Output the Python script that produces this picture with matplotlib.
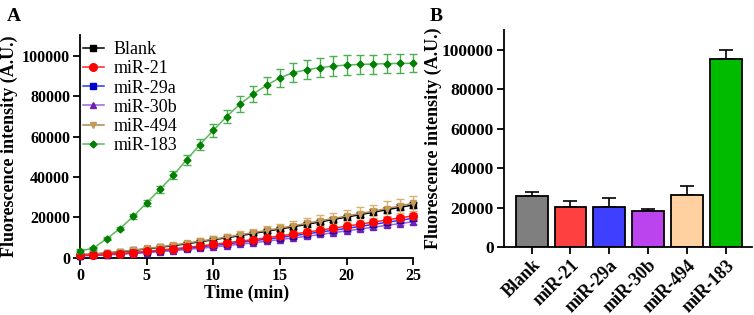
"""
Fluorescence kinetics (A) and end-point intensity (B) for the miRNA panel
"""
import numpy as np
import matplotlib.pyplot as plt
from matplotlib.lines import Line2D

plt.rcParams['font.family'] = ['Liberation Serif', 'DejaVu Serif']

# Panel A: time course, 0..25 min
time = list(range(26))
blank = [1500, 1900, 2400, 3000, 3700, 4500, 5300, 6100, 7000, 8000, 9000, 10000, 11000,
         12100, 13200, 14300, 15400, 16600, 17800, 19000, 20200, 21400, 22600, 23800, 25000, 26200]
blank_err = [300, 300, 350, 400, 450, 500, 550, 600, 650, 700, 750, 800, 850,
             900, 950, 1000, 1050, 1100, 1150, 1200, 1250, 1300, 1350, 1400, 1450, 1500]
mir21 = [1300, 1500, 1800, 2200, 2700, 3300, 3900, 4500, 5200, 5900, 6700, 7500, 8300,
         9100, 10000, 10900, 11800, 12700, 13700, 14700, 15700, 16700, 17700, 18800, 19800, 20800]
mir21_err = [300, 300, 350, 400, 450, 500, 550, 600, 650, 700, 750, 800, 850,
             900, 950, 1000, 1050, 1100, 1150, 1200, 1250, 1300, 1350, 1400, 1450, 1500]
mir29a = [1200, 1400, 1700, 2100, 2500, 3000, 3600, 4200, 4800, 5500, 6200, 6900, 7700,
          8500, 9300, 10100, 11000, 11900, 12800, 13700, 14600, 15600, 16600, 17600, 18600, 19600]
mir29a_err = [300, 300, 350, 400, 450, 500, 550, 600, 650, 700, 750, 800, 850,
              900, 950, 1000, 1050, 1100, 1150, 1200, 1250, 1300, 1350, 1400, 1450, 1500]
mir30b = [1100, 1300, 1500, 1800, 2200, 2600, 3100, 3600, 4200, 4800, 5400, 6100, 6800,
          7500, 8300, 9100, 9900, 10700, 11600, 12500, 13400, 14300, 15200, 16100, 17000, 17900]
mir30b_err = [300, 300, 300, 350, 350, 400, 400, 450, 450, 500, 500, 550, 550,
              600, 600, 650, 650, 700, 700, 750, 750, 800, 800, 850, 850, 900]
mir494 = [1600, 2000, 2600, 3200, 3900, 4700, 5500, 6400, 7300, 8300, 9300, 10300, 11400,
          12500, 13600, 14700, 15900, 17100, 18300, 19500, 20700, 21900, 23100, 24400, 25700, 27000]
mir494_err = [400, 500, 600, 700, 800, 900, 1000, 1100, 1300, 1400, 1500, 1700, 1800,
              2000, 2100, 2300, 2400, 2600, 2700, 2900, 3000, 3200, 3300, 3500, 3600, 3800]
mir183 = [3500, 4800, 9500, 14500, 20500, 27200, 33900, 40800, 48500, 56000, 63000, 69800, 76000,
          81000, 85300, 89000, 91500, 93000, 94000, 94800, 95300, 95600, 95800, 96000, 96100, 96200]
mir183_err = [800, 700, 800, 900, 1000, 1400, 1800, 2000, 2500, 2700, 3000, 3300, 3800,
              4000, 4300, 4500, 4700, 4800, 4800, 4900, 4800, 4800, 4700, 4700, 4700, 4500]

# Panel B: end-point bars (upper error only)
groups = ['Blank', 'miR-21', 'miR-29a', 'miR-30b', 'miR-494', 'miR-183']
bar_vals = [25800, 20400, 20400, 18300, 26400, 95600]
bar_err = [2300, 2900, 4300, 1000, 4600, 4400]
bar_colors = ['#7f7f7f', '#ff4040', '#3f3fff', '#bb44ee', '#ffd0a0', '#00bb00']

fig = plt.figure(figsize=(7.54, 3.15), dpi=100)
axA = fig.add_axes([0.106, 0.181, 0.442, 0.707])
axB = fig.add_axes([0.668, 0.216, 0.329, 0.688])

# (label, y, err, line colour, marker colour, error colour, marker, size, zorder)
series = [
    ('Blank', blank, blank_err, '#000000', '#000000', '#333333', 's', 4.5, 4),
    ('miR-21', mir21, mir21_err, '#ff2020', '#ff0000', '#ff5050', 'o', 5.5, 6),
    ('miR-29a', mir29a, mir29a_err, '#3030ff', '#0000cc', '#5050ff', 's', 4.5, 5),
    ('miR-30b', mir30b, mir30b_err, '#a060e0', '#7020b0', '#a070e0', '^', 4.5, 3),
    ('miR-494', mir494, mir494_err, '#b08850', '#c49a5a', '#d8b070', 'v', 5, 4.5),
    ('miR-183', mir183, mir183_err, '#5cb85c', '#007f00', '#4caf50', 'D', 3.5, 7),
]
handles = []
for label, y, e, lc, mc, ec, mk, ms, z in series:
    axA.errorbar(time, y, yerr=e, color=lc, ecolor=ec, elinewidth=1, capsize=3,
                 capthick=1, marker=mk, ms=ms, mfc=mc, mec=mc, lw=1.1,
                 zorder=z, clip_on=False)
    handles.append(Line2D([], [], color=lc, marker=mk, ms=ms, mfc=mc, mec=mc, lw=1.1, label=label))

axA.set_xlim(0, 25)
axA.set_ylim(0, 110000)
axA.set_xticks([0, 5, 10, 15, 20, 25])
axA.set_yticks([0, 20000, 40000, 60000, 80000, 100000])
axA.set_xlabel('Time (min)', fontsize=12.8, fontweight='bold', labelpad=1)
axA.set_ylabel('Fluorescence intensity (A.U.)', fontsize=13, fontweight='bold', labelpad=3)
axA.legend(handles=handles, loc='upper left', bbox_to_anchor=(-0.03, 1.03), frameon=False,
           fontsize=13, handlelength=1.2, handletextpad=0.5, labelspacing=0.12, borderaxespad=0.3)

x = np.arange(len(groups))
axB.bar(x, bar_vals, width=0.82, color=bar_colors, edgecolor='black', linewidth=1.3, zorder=2)
axB.errorbar(x, bar_vals, yerr=[[0] * len(groups), bar_err], fmt='none', ecolor='black',
             elinewidth=1.2, capsize=5, capthick=1.2, zorder=1)
axB.set_xlim(-0.72, 5.67)
axB.set_ylim(0, 110000)
axB.set_yticks([0, 20000, 40000, 60000, 80000, 100000])
axB.set_xticks(x)
axB.set_xticklabels(groups, rotation=45, ha='right', rotation_mode='anchor')
axB.set_ylabel('Fluorescence intensity (A.U.)', fontsize=13, fontweight='bold', labelpad=0)

for ax in (axA, axB):
    ax.spines['top'].set_visible(False)
    ax.spines['right'].set_visible(False)
    ax.spines['left'].set_linewidth(1.3)
    ax.spines['bottom'].set_linewidth(1.3)
    ax.tick_params(direction='out', length=5, width=1.3, labelsize=11.5, pad=2)
    for t in ax.get_xticklabels() + ax.get_yticklabels():
        t.set_fontweight('bold')
axB.tick_params(axis='y', labelsize=12.5)
axB.tick_params(axis='x', labelsize=13)

fig.text(0.009, 0.975, 'A', fontsize=14, fontweight='bold', va='top')
fig.text(0.57, 0.975, 'B', fontsize=14, fontweight='bold', va='top')

fig.savefig('out.png', dpi=100)
